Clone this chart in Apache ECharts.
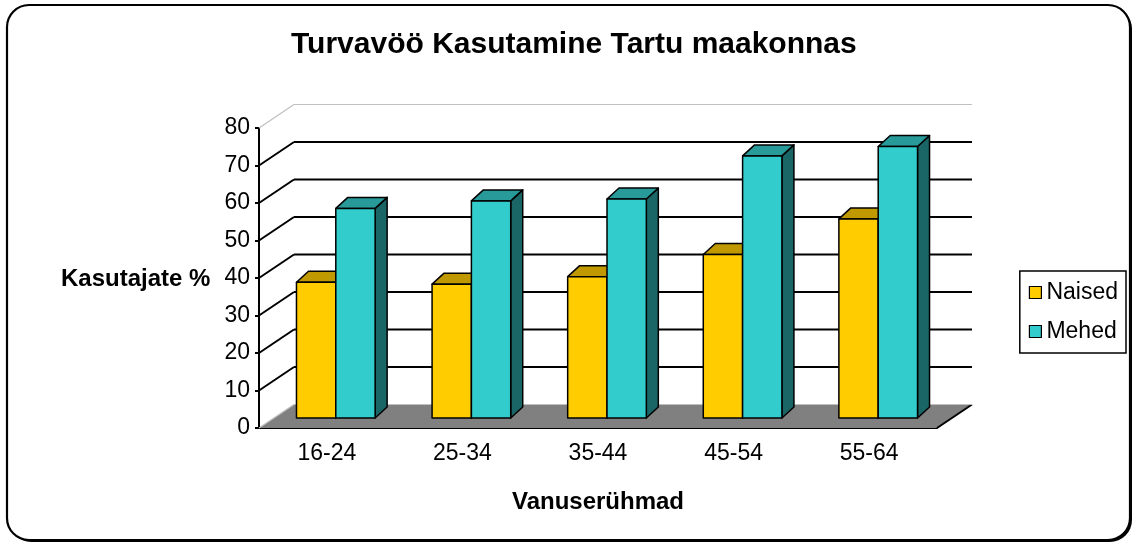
<!DOCTYPE html>
<html>
<head>
<meta charset="utf-8">
<title>Turvavöö Kasutamine Tartu maakonnas</title>
<script src="https://cdn.jsdelivr.net/npm/echarts@6/dist/echarts.min.js"></script>
<style>
  html, body { margin: 0; padding: 0; background: #fff; }
  #chart { width: 1133px; height: 544px; }
</style>
</head>
<body>
<div id="chart"></div>
<script>
const categories = ['16-24', '25-34', '35-44', '45-54', '55-64'];
const naised = [36.2, 35.7, 37.7, 43.6, 53.1];
const mehed = [55.9, 57.9, 58.4, 69.9, 72.4];
const yTicks = [0, 10, 20, 30, 40, 50, 60, 70, 80];

// 3d look: depth of the walls and of the bars
const DX = 35, DY = 23.5;
const SX = 15, SY = 10;
const BDX = 12, BDY = 11;
const FONT = 'Liberation Sans, Arial, sans-serif';

const chartDom = document.getElementById('chart');
const chart = echarts.init(chartDom);

const wallItem = (params, api) => {
  const v = api.value(1);
  const cs = params.coordSys;
  const x0 = cs.x, x1 = cs.x + cs.width;
  const y = api.coord([0, v])[1];
  const edge = v === 0 || v === 80;
  const lineStyle = edge
    ? { stroke: '#c0c0c0', lineWidth: 1.2 }
    : { stroke: '#000', lineWidth: 2 };
  const children = [];
  if (v === 0) {
    children.push({
      type: 'polygon',
      shape: { points: [[x0, y], [x1, y], [x1 + DX, y - DY], [x0 + DX, y - DY]] },
      style: { fill: '#808080' }
    });
    children.push({
      type: 'line',
      shape: { x1: x1, y1: y, x2: x1 + DX, y2: y - DY },
      style: { stroke: '#000', lineWidth: 2 }
    });
  }
  children.push({
    type: 'line',
    shape: { x1: x0, y1: y, x2: x0 + DX, y2: y - DY },
    style: lineStyle
  });
  children.push({
    type: 'line',
    shape: { x1: x0 + DX, y1: y - DY, x2: x1 + DX, y2: y - DY },
    style: lineStyle
  });
  return { type: 'group', children: children };
};

const barItem = (idx, front, top, side) => (params, api) => {
  const i = api.value(0), v = api.value(1);
  const base = api.coord([i, 0]);
  const tp = api.coord([i, v]);
  const band = api.size([1, 0])[0];
  const w = band * 0.29;
  const cx = base[0] + SX - BDX / 2;
  const xl = idx === 0 ? cx - w : cx;
  const xr = xl + w;
  const yb = base[1] - SY, yt = tp[1] - SY;
  const st = { stroke: '#000', lineWidth: 1.5, lineJoin: 'round' };
  return {
    type: 'group',
    children: [
      { type: 'polygon', shape: { points: [[xr, yt], [xr + BDX, yt - BDY], [xr + BDX, yb - BDY], [xr, yb]] },
        style: Object.assign({ fill: side }, st) },
      { type: 'polygon', shape: { points: [[xl, yt], [xr, yt], [xr + BDX, yt - BDY], [xl + BDX, yt - BDY]] },
        style: Object.assign({ fill: top }, st) },
      { type: 'rect', shape: { x: xl, y: yt, width: w, height: yb - yt },
        style: Object.assign({ fill: front }, st) }
    ]
  };
};

const option = {
  animation: false,
  color: ['#FFCC00', '#33CCCC'],
  title: {
    text: 'Turvavöö Kasutamine Tartu maakonnas',
    left: 286,
    top: 25,
    textStyle: { fontFamily: FONT, fontSize: 30, fontWeight: 'bold', color: '#000' }
  },
  legend: {
    orient: 'vertical',
    right: 7,
    top: 271,
    padding: [10, 8, 10, 9],
    itemGap: 16,
    itemWidth: 12,
    itemHeight: 12,
    borderColor: '#000',
    borderWidth: 1.5,
    icon: 'rect',
    itemStyle: { borderColor: '#000', borderWidth: 1.2 },
    textStyle: { fontFamily: FONT, fontSize: 23, color: '#000' },
    data: ['Naised', 'Mehed']
  },
  grid: { left: 259, right: 196, top: 128, bottom: 116 },
  xAxis: {
    type: 'category',
    data: categories,
    name: 'Vanuserühmad',
    nameLocation: 'middle',
    nameGap: 62,
    nameTextStyle: { fontFamily: FONT, fontSize: 24, fontWeight: 'bold', color: '#000' },
    axisLine: { lineStyle: { color: '#000', width: 2 } },
    axisTick: { length: 5, lineStyle: { color: '#000', width: 2 } },
    axisLabel: { margin: 14, fontFamily: FONT, fontSize: 23, color: '#000' },
    splitLine: { show: false }
  },
  yAxis: {
    type: 'value',
    min: 0,
    max: 80,
    interval: 10,
    axisLine: { show: true, lineStyle: { color: '#000', width: 2 } },
    axisTick: { show: true, length: 4, lineStyle: { color: '#000', width: 2 } },
    axisLabel: { margin: 9, fontFamily: FONT, fontSize: 23, color: '#000' },
    splitLine: { show: false }
  },
  graphic: [
    {
      type: 'rect',
      z: -20,
      shape: { x: 9, y: 7, width: 1123, height: 535, r: 22 },
      style: { fill: '#000' }
    },
    {
      type: 'rect',
      z: -10,
      shape: { x: 7, y: 5, width: 1123, height: 535, r: 22 },
      style: { fill: '#fff', stroke: '#000', lineWidth: 2.2 }
    },
    {
      type: 'text',
      left: 61,
      top: 267,
      style: { text: 'Kasutajate %', font: 'bold 24px ' + FONT, fill: '#000' }
    }
  ],
  series: [
    {
      name: 'walls',
      type: 'custom',
      clip: false,
      z: 1,
      renderItem: wallItem,
      data: yTicks.map(v => [0, v])
    },
    {
      name: 'Naised',
      type: 'custom',
      clip: false,
      z: 3,
      itemStyle: { color: '#FFCC00', borderColor: '#000', borderWidth: 1.2 },
      renderItem: barItem(0, '#FFCC00', '#C09900', '#806600'),
      data: naised.map((v, i) => [i, v])
    },
    {
      name: 'Mehed',
      type: 'custom',
      clip: false,
      z: 3,
      itemStyle: { color: '#33CCCC', borderColor: '#000', borderWidth: 1.2 },
      renderItem: barItem(1, '#33CCCC', '#289A9A', '#1A6666'),
      data: mehed.map((v, i) => [i, v])
    }
  ]
};

option && chart.setOption(option);
</script>
</body>
</html>
